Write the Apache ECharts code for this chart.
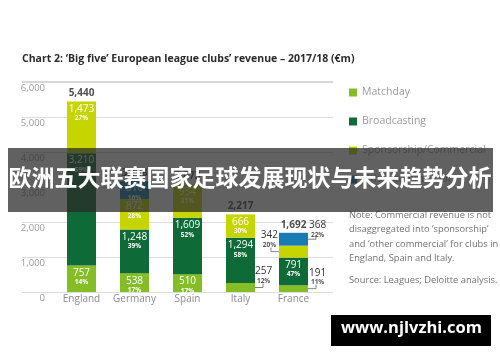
<!DOCTYPE html>
<html><head><meta charset="utf-8">
<script src="https://cdn.jsdelivr.net/npm/echarts@6/dist/echarts.min.js"></script>
<style>html,body{margin:0;padding:0;background:#fff}#c{width:500px;height:362px}</style>
</head><body><div id="c"></div>
<script>
const categories = ['England', 'Germany', 'Spain', 'Italy', 'France'];
const seriesNames = ['Matchday', 'Broadcasting', 'Sponsorship/Commercial', 'Other commercial'];
const matchday = [757, 538, 510, 257, 191];
const broadcasting = [3210, 1248, 1609, 1294, 791];
const commercial = [1473, 872, 954, 666, 342];
const otherCommercial = [null, 510, null, null, 368];
const totals = [5440, 3168, 3073, 2217, 1692];
const matchdayPct = ['14%', '17%', '17%', '12%', '11%'];
const broadcastingPct = ['59%', '39%', '52%', '58%', '47%'];
const commercialPct = ['27%', '28%', '31%', '30%', '20%'];
const otherPct = ['', '16%', '', '', '22%'];
const yTicks = [0, 1000, 2000, 3000, 4000, 5000, 6000];

const colors = ['#84bd26', '#0e6b38', '#c6d500', '#1a7bb3'];
const FONT = '"Open Sans", sans-serif';
const fmt = v => Number(v).toLocaleString('en-US');

// which points carry an outside label: [seriesIdx, dataIdx, side, dy, distance]
const outside = [[0, 3, 'right', -12, 0], [0, 4, 'right', -12, 1], [2, 4, 'left', -12, 1], [3, 4, 'right', -10, 1]];

const insideLabel = {
  show: true, position: 'insideTop', distance: 2, color: '#fff', fontFamily: FONT,
  rich: {
    v: { fontSize: 10, lineHeight: 11, color: '#fff', fontFamily: FONT, align: 'center' },
    p: { fontSize: 6.5, lineHeight: 8, color: '#fff', fontFamily: FONT, fontWeight: 'bold', align: 'center' }
  }
};
function outLabel(side, dy, dist) {
  return {
    show: true, position: side, distance: dist, offset: [0, dy], fontFamily: FONT,
    rich: {
      v: { fontSize: 10, lineHeight: 11, color: '#333', fontFamily: FONT, align: 'center' },
      p: { fontSize: 6.5, lineHeight: 8, color: '#555', fontFamily: FONT, fontWeight: 'bold', align: 'center' }
    }
  };
}
const pcts = [matchdayPct, broadcastingPct, commercialPct, otherPct];
const vals = [matchday, broadcasting, commercial, otherCommercial];

function buildData(si) {
  return vals[si].map((v, i) => {
    const o = outside.find(q => q[0] === si && q[1] === i);
    if (o) return { value: v, label: outLabel(o[2], o[3], o[4]) };
    return v;
  });
}

const barSeries = seriesNames.map((name, si) => ({
  name, type: 'bar', stack: 'rev', xAxisIndex: 0, yAxisIndex: 0,
  barWidth: 29, itemStyle: { color: colors[si] },
  label: Object.assign({}, insideLabel, {
    formatter: p => '{v|' + fmt(p.value) + '}\n{p|' + pcts[si][p.dataIndex] + '}'
  }),
  emphasis: { disabled: true },
  data: buildData(si)
}));

const option = {
  animation: false,
  textStyle: { fontFamily: FONT },
  title: {
    text: "Chart 2: \u2018Big five\u2019 European league clubs\u2019 revenue \u2013 2017/18 (\u20acm)",
    left: 22, top: 54, padding: 0,
    textStyle: { fontSize: 10.5, fontWeight: 'bold', color: '#2b2b2b', fontFamily: FONT }
  },
  legend: {
    orient: 'vertical', left: 344, top: 82, itemWidth: 8, itemHeight: 8, itemGap: 18,
    icon: 'rect', data: seriesNames,
    textStyle: { color: '#9a9a9a', fontSize: 10.5, fontFamily: FONT, padding: [0, 0, 0, 0] }
  },
  grid: [
    { left: 55, width: 265, top: 82, height: 210 },
    { left: 22, width: 311, top: 82, height: 210 }
  ],
  xAxis: [
    { type: 'category', gridIndex: 0, data: categories,
      axisLine: { show: false }, axisTick: { show: false },
      axisLabel: { interval: 0, color: '#8a8a8a', fontSize: 10, margin: 2, fontFamily: FONT } },
    { type: 'value', gridIndex: 1, show: false, min: 0, max: 1 }
  ],
  yAxis: [
    { type: 'value', gridIndex: 0, min: 0, max: 6000, interval: 1000, show: false },
    { type: 'value', gridIndex: 1, min: 0, max: 6000, interval: 1000,
      axisLine: { show: false }, axisTick: { show: false },
      splitLine: { lineStyle: { color: '#dcdcdc', width: 1 } },
      axisLabel: { inside: true, align: 'right', verticalAlign: 'top', margin: 23,
        color: '#9a9a9a', fontSize: 9.5, fontFamily: FONT, padding: [1, 0, 0, 0],
        formatter: v => yTicks.includes(v) ? fmt(v) : '' } }
  ],
  series: barSeries.concat([{
    name: 'Total', type: 'scatter', xAxisIndex: 0, yAxisIndex: 0, symbolSize: 0,
    silent: true, data: totals,
    label: { show: true, position: 'top', distance: 3, formatter: p => fmt(p.value),
      color: '#222', fontSize: 10, fontWeight: 'bold', fontFamily: FONT }
  }])
};

const chart = echarts.init(document.getElementById('c'), null, { renderer: 'canvas' });
chart.setOption(option);

// leader lines for outside labels, positioned through the chart's own scales
const half = 14.5;
const graphics = [];
outside.forEach(([si, i, side]) => {
  let base = 0;
  for (let k = 0; k < si; k++) base += (vals[k][i] || 0);
  const mid = base + vals[si][i] / 2;
  const pt = chart.convertToPixel({ xAxisIndex: 0, yAxisIndex: 0 }, [i, mid]);
  const dir = side === 'right' ? 1 : -1;
  const x0 = pt[0] + dir * half;
  const x1 = x0 + dir * 8;
  graphics.push({ type: 'polyline', z: 10, shape: { points: [[x0, pt[1]], [x1, pt[1]], [x1, pt[1] - 4]] },
    style: { stroke: '#666', lineWidth: 0.8, fill: null } });
});
const topPt = chart.convertToPixel({ yAxisIndex: 1, xAxisIndex: 1 }, [0, 6000]);
graphics.push({ type: 'rect', z: 5, shape: { x: 22, y: topPt[1] - 1, width: 311, height: 2 }, style: { fill: '#d6d6d6' } });
graphics.push({ type: 'text', z: 5, left: 349, top: 208,
  style: { text: "Note: Commercial revenue is not\ndisaggregated into \u2018sponsorship\u2019\nand \u2018other commercial\u2019 for clubs in\nEngland, Spain and Italy.",
    fontSize: 9.3, lineHeight: 14.5, fill: '#707070', fontFamily: FONT } });
graphics.push({ type: 'text', z: 5, left: 349, top: 273,
  style: { text: 'Source: Leagues; Deloitte analysis.', fontSize: 9.3, lineHeight: 14.5, fill: '#707070', fontFamily: FONT } });
graphics.push({ type: 'rect', z: 100, shape: { x: 8, y: 148, width: 485, height: 64 }, style: { fill: 'rgba(42,42,42,0.74)' } });
graphics.push({ type: 'text', z: 101, left: 'center', top: 166,
  style: { text: '欧洲五大联赛国家足球发展现状与未来趋势分析', fontSize: 23, fontWeight: 'bold', fill: '#fff', fontFamily: '"Noto Sans CJK SC", sans-serif' } });
graphics.push({ type: 'rect', z: 100, shape: { x: 331, y: 315, width: 160, height: 31 }, style: { fill: '#000' } });
graphics.push({ type: 'text', z: 101, left: 341, top: 320,
  style: { text: 'www.njlvzhi.com', fontSize: 16.5, fontWeight: 'bold', fill: '#fff', fontFamily: FONT } });
chart.setOption({ graphic: graphics });
</script></body></html>
